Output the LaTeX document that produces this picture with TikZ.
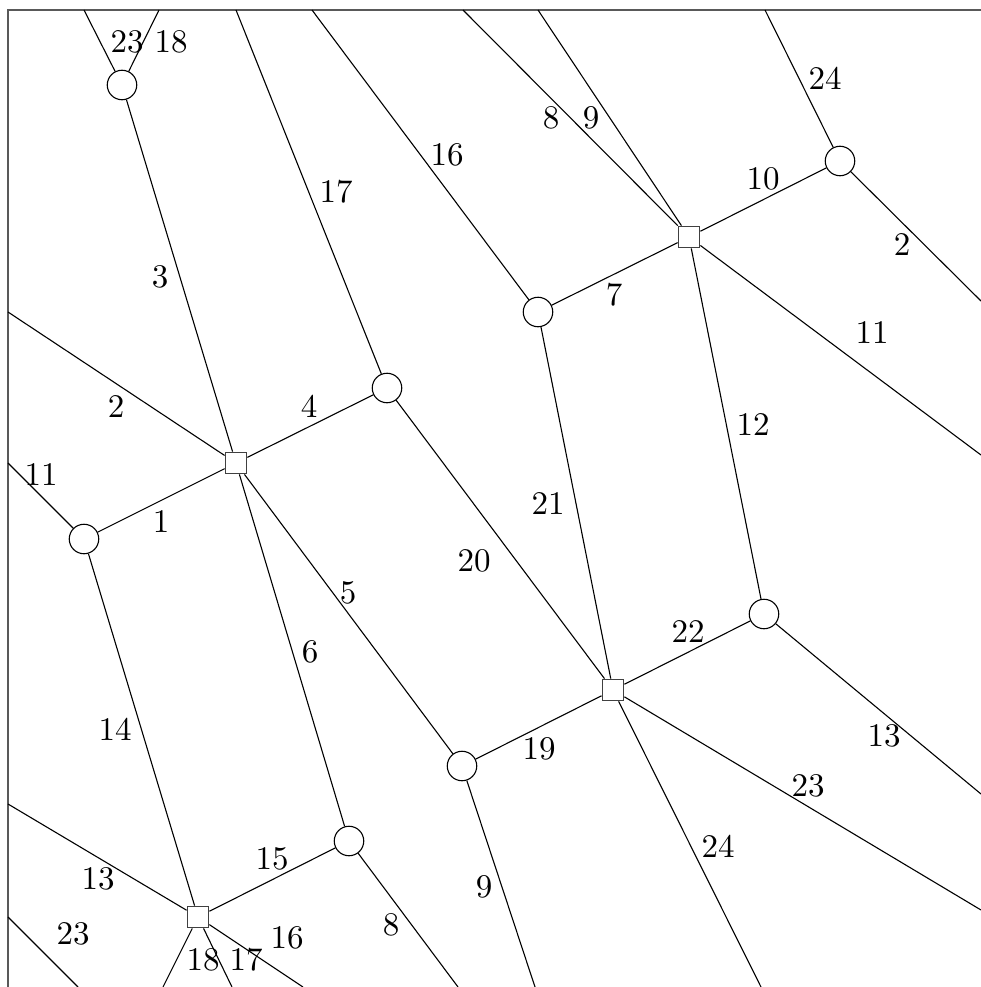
\documentclass[tikz,border=0pt]{standalone}
\font\edgefont=cmr10 at 33pt
\begin{document}
\begin{tikzpicture}[x=1pt,y=-1pt,
  vtx/.style={draw=black,circle,line width=1.1pt,minimum size=29.5pt,inner sep=0pt,fill=white},
  sq/.style={draw=black!75,rectangle,line width=1.3pt,minimum size=21.5pt,inner sep=0pt,fill=white},
  edge/.style={line width=1.1pt,black},
  lab/.style={inner sep=0pt,font=\edgefont},
  frame/.style={line width=1.6pt,black!65}]
\useasboundingbox (0,0) rectangle (981,987);
\draw[frame] (8,987) -- (8,10) -- (981,10);
% nodes
\node[vtx] (A) at (122,85) {};
\node[vtx] (B) at (84,539) {};
\node[vtx] (C) at (387,388) {};
\node[vtx] (D) at (538,312) {};
\node[vtx] (E) at (840,161) {};
\node[vtx] (F) at (764,614) {};
\node[vtx] (G) at (462,766) {};
\node[vtx] (H) at (349,841) {};
\node[sq] (S1) at (236,463) {};
\node[sq] (S2) at (689,237) {};
\node[sq] (S3) at (613,690) {};
\node[sq] (S4) at (198,917) {};
% boundary coordinates
\coordinate (tA1) at (84,10);
\coordinate (tA2) at (159,10);
\coordinate (tC) at (236,10);
\coordinate (tD) at (312,10);
\coordinate (tS2a) at (463,10);
\coordinate (tS2b) at (538,10);
\coordinate (tE) at (765,10);
\coordinate (lB) at (8,463);
\coordinate (lS1) at (8,312);
\coordinate (lS4) at (8,804);
\coordinate (lX) at (8,917);
\coordinate (rS2) at (981,455);
\coordinate (rE) at (981,301);
\coordinate (rF) at (981,794);
\coordinate (rS3) at (981,910);
\coordinate (bS3) at (761,987);
\coordinate (bG) at (535,987);
\coordinate (bH) at (458,987);
\coordinate (bS4a) at (163,987);
\coordinate (bS4b) at (232,987);
\coordinate (bS4c) at (303,987);
\coordinate (bX) at (78,987);
% internal edges
\draw[edge] (B) -- (S1);
\draw[edge] (A) -- (S1);
\draw[edge] (S1) -- (C);
\draw[edge] (S1) -- (G);
\draw[edge] (S1) -- (H);
\draw[edge] (D) -- (S2);
\draw[edge] (S2) -- (E);
\draw[edge] (S2) -- (F);
\draw[edge] (C) -- (S3);
\draw[edge] (D) -- (S3);
\draw[edge] (G) -- (S3);
\draw[edge] (S3) -- (F);
\draw[edge] (B) -- (S4);
\draw[edge] (S4) -- (H);
% dangling edges
\draw[edge] (A) -- (tA1);
\draw[edge] (A) -- (tA2);
\draw[edge] (C) -- (tC);
\draw[edge] (D) -- (tD);
\draw[edge] (S2) -- (tS2a);
\draw[edge] (S2) -- (tS2b);
\draw[edge] (S2) -- (rS2);
\draw[edge] (E) -- (tE);
\draw[edge] (E) -- (rE);
\draw[edge] (B) -- (lB);
\draw[edge] (S1) -- (lS1);
\draw[edge] (F) -- (rF);
\draw[edge] (S3) -- (rS3);
\draw[edge] (S3) -- (bS3);
\draw[edge] (G) -- (bG);
\draw[edge] (H) -- (bH);
\draw[edge] (S4) -- (lS4);
\draw[edge] (S4) -- (bS4a);
\draw[edge] (S4) -- (bS4b);
\draw[edge] (S4) -- (bS4c);
\draw[edge] (lX) -- (bX);
% labels
\node[lab] (l23a) at (127,42) {23};
\node[lab] (l18a) at (171,42) {18};
\node[lab] (l3) at (160,277) {3};
\node[lab] (l17a) at (336,192) {17};
\node[lab] (l16a) at (447,155) {16};
\node[lab] (l8a) at (551,118) {8};
\node[lab] (l9a) at (591,118) {9};
\node[lab] (l7) at (614,295) {7};
\node[lab] (l24a) at (825,79) {24};
\node[lab] (l10) at (763,179) {10};
\node[lab] (l2a) at (902,245) {2};
\node[lab] (l11a) at (872,333) {11};
\node[lab] (l2b) at (116,407) {2};
\node[lab] (l4) at (309,407) {4};
\node[lab] (l11b) at (41,475) {11};
\node[lab] (l1) at (161,522) {1};
\node[lab] (l12) at (753,425) {12};
\node[lab] (l21) at (548,504) {21};
\node[lab] (l20) at (474,561) {20};
\node[lab] (l5) at (348,593) {5};
\node[lab] (l6) at (310,652) {6};
\node[lab] (l22) at (688,632) {22};
\node[lab] (l14) at (115,730) {14};
\node[lab] (l13a) at (98,879) {13};
\node[lab] (l15) at (272,859) {15};
\node[lab] (l23b) at (73,934) {23};
\node[lab] (l16b) at (287,938) {16};
\node[lab] (l18b) at (203,960) {18};
\node[lab] (l17b) at (246,960) {17};
\node[lab] (l19) at (539,749) {19};
\node[lab] (l9b) at (484,887) {9};
\node[lab] (l8b) at (391,925) {8};
\node[lab] (l13b) at (884,736) {13};
\node[lab] (l23c) at (808,786) {23};
\node[lab] (l24b) at (718,847) {24};
\end{tikzpicture}
\end{document}
